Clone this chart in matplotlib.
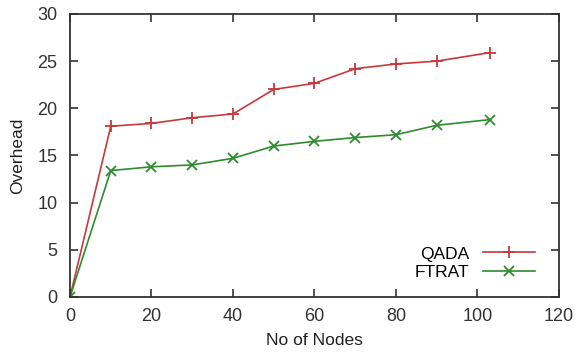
import matplotlib
matplotlib.use("Agg")
import matplotlib.pyplot as plt

nodes_qada = [0, 10, 20, 30, 40, 50, 60, 70, 80, 90, 103]
overhead_qada = [0, 18.1, 18.4, 19.0, 19.4, 22.0, 22.65, 24.2, 24.7, 25.0, 25.9]

nodes_ftrat = [0, 10, 20, 30, 40, 50, 60, 70, 80, 90, 103]
overhead_ftrat = [0, 13.4, 13.8, 14.0, 14.7, 16.0, 16.5, 16.9, 17.2, 18.2, 18.8]

x_ticks = [0, 20, 40, 60, 80, 100, 120]
y_ticks = [0, 5, 10, 15, 20, 25, 30]

plt.rcParams['font.family'] = ['Liberation Sans', 'DejaVu Sans']

fig = plt.figure(figsize=(5.8, 3.52), dpi=100)
ax = fig.add_axes([0.1207, 0.1563, 0.843, 0.804])

ax.plot(nodes_qada, overhead_qada, color='#c8383c', lw=1.2, marker='+',
        ms=9, mew=1.3, label='QADA')
ax.plot(nodes_ftrat, overhead_ftrat, color='#2e8b2e', lw=1.2, marker='x',
        ms=7, mew=1.3, label='FTRAT')

ax.set_xlim(0, 120)
ax.set_ylim(0, 30)
ax.set_xticks(x_ticks)
ax.set_yticks(y_ticks)
ax.tick_params(direction='in', length=6, width=1.2, top=True, right=True,
               labelsize=13, colors='#333333', pad=8)
ax.tick_params(axis='y', pad=9)
for s in ax.spines.values():
    s.set_linewidth(1.3)
    s.set_color('#333333')

ax.set_xlabel('No of Nodes', fontsize=12.5, color='#222222', labelpad=6)
ax.set_ylabel('Overhead', fontsize=12.5, color='#222222', labelpad=9)

ax.legend(loc='lower right', bbox_to_anchor=(0.965, 0.035), frameon=False,
          markerfirst=False, fontsize=12.5, handlelength=3.0,
          handletextpad=0.8, labelspacing=0.2, borderaxespad=0)

fig.savefig('out.png', dpi=100)
